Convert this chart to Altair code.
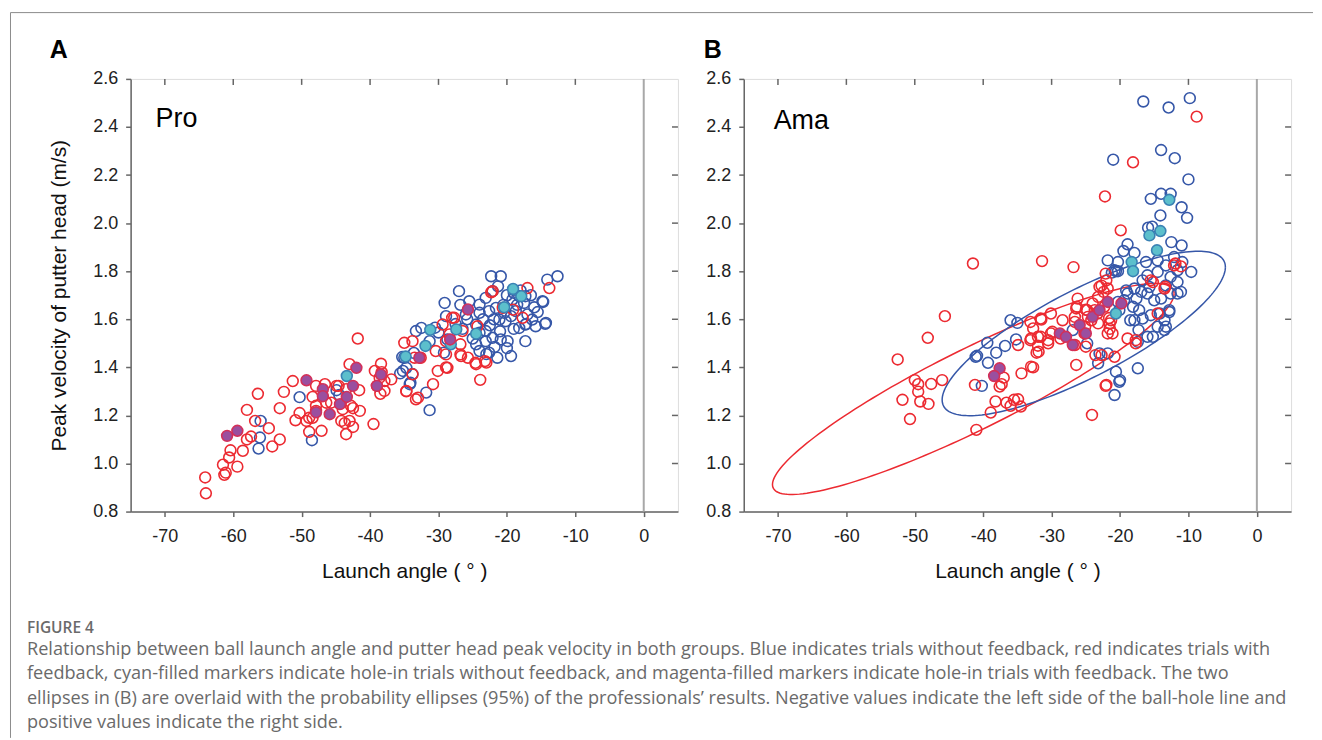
import altair as alt
import pandas as pd

# ---------------- axes / text ----------------
X_DOMAIN = [-75, 5]
Y_DOMAIN = [0.8, 2.6]
x_ticks = [-70, -60, -50, -40, -30, -20, -10, 0]
y_ticks = [0.8, 1.0, 1.2, 1.4, 1.6, 1.8, 2.0, 2.2, 2.4, 2.6]
panel_letters = ["A", "B"]
group_names = ["Pro", "Ama"]
x_title = "Launch angle ( °  )"
y_title = "Peak velocity of putter head (m/s)"
caption_head = "FIGURE 4"
caption_lines = [
    "Relationship between ball launch angle and putter head peak velocity in both groups. Blue indicates trials without feedback, red indicates trials with",
    "feedback, cyan-filled markers indicate hole-in trials without feedback, and magenta-filled markers indicate hole-in trials with feedback. The two",
    "ellipses in (B) are overlaid with the probability ellipses (95%) of the professionals\u2019 results. Negative values indicate the left side of the ball-hole line and",
    "positive values indicate the right side.",
]

# ---------------- Panel A: professionals ----------------
pro_nofb = [
    (-56.0, 1.177), (-56.1, 1.108), (-56.3, 1.062), (-50.3, 1.276), (-48.5, 1.097), (-44.9, 1.305), (-44.5, 1.285),
    (-35.3, 1.443), (-35.2, 1.385), (-34.1, 1.336), (-35.6, 1.375), (-34.7, 1.398), (-33.8, 1.372), (-31.3, 1.222),
    (-31.8, 1.295), (-34.2, 1.330), (-33.3, 1.551), (-32.5, 1.564), (-31.3, 1.509), (-35.0, 1.440), (-33.6, 1.460),
    (-29.2, 1.461), (-28.7, 1.516), (-28.9, 1.613), (-29.1, 1.668), (-27.0, 1.717), (-25.5, 1.675), (-25.8, 1.600),
    (-26.0, 1.620), (-24.0, 1.661), (-23.1, 1.689), (-22.3, 1.779), (-20.9, 1.779), (-22.1, 1.717), (-21.6, 1.647),
    (-21.1, 1.599), (-20.2, 1.592), (-19.4, 1.613), (-18.7, 1.634), (-18.2, 1.564), (-17.3, 1.578), (-16.3, 1.599),
    (-15.8, 1.571), (-14.8, 1.675), (-14.3, 1.585), (-14.1, 1.765), (-12.6, 1.779), (-17.3, 1.509), (-19.4, 1.447),
    (-21.4, 1.440), (-22.6, 1.461), (-24.0, 1.468), (-24.5, 1.496), (-23.1, 1.509), (-22.1, 1.523), (-20.9, 1.516),
    (-19.9, 1.509), (-24.0, 1.544), (-23.1, 1.551), (-24.5, 1.578), (-24.0, 1.627), (-22.6, 1.634), (-21.9, 1.600),
    (-20.4, 1.627), (-19.2, 1.682), (-18.2, 1.696), (-17.5, 1.668), (-17.3, 1.696), (-19.0, 1.710), (-20.0, 1.700),
    (-21.3, 1.737), (-14.7, 1.672), (-14.4, 1.581), (-17.2, 1.580), (-16.0, 1.650), (-17.0, 1.620), (-18.5, 1.660),
    (-20.5, 1.660), (-22.5, 1.575), (-23.5, 1.600), (-25.0, 1.520), (-21.0, 1.550), (-19.0, 1.560), (-18.0, 1.720),
    (-16.5, 1.700), (-15.5, 1.630), (-20.0, 1.480), (-21.8, 1.485), (-23.0, 1.455), (-26.5, 1.560), (-27.5, 1.580),
    (-30.0, 1.545), (-30.5, 1.565), (-26.8, 1.660),
]
pro_fb = [
    (-64.0, 0.876), (-64.1, 0.942), (-61.3, 0.953), (-61.1, 0.962), (-61.5, 0.995), (-59.4, 0.987), (-60.6, 1.025),
    (-60.4, 1.055), (-58.6, 1.053), (-58.0, 1.100), (-57.4, 1.112), (-56.8, 1.177), (-58.0, 1.223), (-56.4, 1.290),
    (-54.8, 1.147), (-54.3, 1.071), (-53.2, 1.100), (-53.2, 1.230), (-52.6, 1.298), (-51.3, 1.343), (-50.9, 1.180),
    (-50.3, 1.210), (-48.9, 1.132), (-48.9, 1.190), (-48.4, 1.277), (-47.9, 1.323), (-47.1, 1.136), (-47.9, 1.219),
    (-46.4, 1.253), (-44.9, 1.323), (-44.2, 1.177), (-43.7, 1.168), (-43.5, 1.122), (-42.5, 1.152), (-43.0, 1.413),
    (-41.8, 1.520), (-41.6, 1.305), (-41.5, 1.219), (-42.8, 1.240), (-39.5, 1.164), (-39.0, 1.323), (-38.4, 1.415),
    (-38.3, 1.380), (-37.9, 1.302), (-36.9, 1.350), (-34.7, 1.300), (-35.0, 1.502), (-33.3, 1.267), (-46.6, 1.330),
    (-45.7, 1.253), (-44.0, 1.226), (-42.5, 1.230), (-43.0, 1.177), (-43.5, 1.309), (-44.6, 1.323), (-49.3, 1.177),
    (-48.4, 1.190), (-47.9, 1.240), (-39.3, 1.385), (-38.6, 1.357), (-37.9, 1.343), (-38.5, 1.290),
    (-33.8, 1.509), (-33.5, 1.440), (-32.6, 1.440), (-33.8, 1.371), (-34.7, 1.302), (-33.0, 1.274), (-30.8, 1.330),
    (-30.1, 1.385), (-28.7, 1.398), (-30.4, 1.468), (-28.9, 1.454), (-29.4, 1.578), (-28.4, 1.537), (-27.7, 1.606),
    (-26.5, 1.551), (-26.7, 1.447), (-25.7, 1.440), (-24.5, 1.413), (-23.2, 1.426), (-23.9, 1.348), (-24.3, 1.571),
    (-22.1, 1.717), (-20.6, 1.647), (-17.0, 1.730), (-13.8, 1.730), (-17.7, 1.606), (-19.1, 1.640), (-28.0, 1.606),
    (-28.9, 1.509), (-26.8, 1.496), (-26.8, 1.454), (-24.6, 1.419), (-23.0, 1.420), (-22.3, 1.712), (-28.9, 1.400),
]
pro_fb_hole = [
    (-60.9, 1.115), (-59.4, 1.136), (-49.3, 1.346), (-46.9, 1.309), (-46.9, 1.280), (-47.9, 1.213), (-45.9, 1.205),
    (-44.4, 1.247), (-43.4, 1.277), (-42.0, 1.398), (-42.5, 1.323), (-39.0, 1.323), (-38.4, 1.370), (-25.7, 1.641),
    (-28.3, 1.516), (-32.8, 1.440),
]
pro_nofb_hole = [
    (-43.4, 1.364), (-34.8, 1.445), (-31.2, 1.556), (-31.9, 1.489), (-27.4, 1.558), (-24.5, 1.540), (-20.4, 1.650),
    (-19.1, 1.726), (-17.9, 1.696), (-28.2, 1.496),
]

# ---------------- Panel B: amateurs ----------------
ama_nofb = [
    (-16.6, 2.506), (-12.9, 2.481), (-9.8, 2.520), (-14.0, 2.304), (-12.0, 2.270), (-21.0, 2.264), (-10.0, 2.182),
    (-15.5, 2.101), (-14.0, 2.122), (-12.6, 2.122), (-11.0, 2.066), (-10.2, 2.022), (-14.1, 2.032), (-15.9, 1.981),
    (-15.3, 1.985), (-12.5, 1.921), (-11.0, 1.907), (-18.9, 1.912), (-19.5, 1.884), (-17.9, 1.876), (-20.3, 1.838),
    (-20.8, 1.804), (-20.3, 1.800), (-16.2, 1.838), (-14.5, 1.845), (-13.3, 1.824), (-12.1, 1.859), (-10.9, 1.838),
    (-9.6, 1.797), (-11.6, 1.804), (-12.6, 1.776), (-14.5, 1.797), (-16.0, 1.783), (-16.7, 1.762), (-15.7, 1.734),
    (-13.3, 1.741), (-11.6, 1.755), (-11.1, 1.714), (-12.6, 1.707), (-14.0, 1.686), (-15.0, 1.679), (-16.0, 1.707),
    (-16.9, 1.714), (-17.9, 1.728), (-18.9, 1.707), (-19.4, 1.679), (-18.1, 1.652), (-17.2, 1.638), (-17.9, 1.596),
    (-16.7, 1.603), (-15.5, 1.617), (-14.2, 1.624), (-12.8, 1.638), (-13.5, 1.596), (-14.5, 1.569), (-13.3, 1.569),
    (-16.0, 1.527), (-17.4, 1.506), (-20.1, 1.638), (-17.4, 1.396), (-20.6, 1.382), (-20.1, 1.340), (-20.8, 1.285),
    (-21.8, 1.458), (-23.0, 1.458), (-23.2, 1.417), (-20.6, 1.800), (-36.0, 1.596), (-35.0, 1.585), (-39.4, 1.502),
    (-41.1, 1.444), (-40.9, 1.448), (-38.1, 1.461), (-36.8, 1.489), (-35.2, 1.516), (-39.3, 1.419), (-40.2, 1.323),
    (-26.9, 1.555), (-24.8, 1.500), (-20.0, 1.347), (-15.2, 1.527), (-13.5, 1.555), (-12.8, 1.630), (-11.6, 1.707),
    (-17.3, 1.555), (-18.5, 1.596), (-20.3, 1.672), (-21.2, 1.794), (-21.8, 1.845), (-19.1, 1.720), (-17.6, 1.686),
]
ama_fb = [
    (-41.5, 1.832), (-31.4, 1.842), (-45.6, 1.613), (-48.1, 1.523), (-52.5, 1.433), (-50.0, 1.347), (-49.5, 1.330),
    (-49.5, 1.299), (-47.6, 1.331), (-46.0, 1.347), (-51.8, 1.265), (-49.2, 1.258), (-48.0, 1.248), (-50.7, 1.185),
    (-41.0, 1.140), (-41.2, 1.327), (-38.9, 1.212), (-38.2, 1.258), (-36.6, 1.253), (-34.9, 1.267), (-34.5, 1.237),
    (-37.0, 1.357), (-37.3, 1.330), (-34.4, 1.375), (-32.7, 1.400), (-34.9, 1.493), (-32.2, 1.461), (-33.0, 1.520),
    (-31.5, 1.599), (-32.7, 1.562), (-8.8, 2.443), (-18.1, 2.253), (-22.2, 2.111), (-19.9, 1.970), (-26.8, 1.817),
    (-12.1, 1.824), (-15.5, 1.762), (-13.5, 1.728), (-14.5, 1.624), (-18.9, 1.520), (-17.7, 1.513), (-22.0, 1.327),
    (-24.1, 1.202), (-26.4, 1.410), (-21.8, 1.541), (-23.7, 1.638), (-24.7, 1.610), (-22.0, 1.762), (-22.7, 1.740),
    (-21.8, 1.728), (-26.2, 1.686), (-26.4, 1.645), (-28.4, 1.596), (-30.1, 1.624), (-31.6, 1.603), (-32.0, 1.527),
    (-30.5, 1.500), (-30.1, 1.541), (-33.0, 1.403), (-25.2, 1.541), (-25.0, 1.486), (-23.2, 1.583), (-21.1, 1.541),
    (-24.0, 1.666), (-23.2, 1.693), (-22.3, 1.652), (-21.3, 1.596), (-20.8, 1.444), (-22.1, 1.790), (-22.4, 1.714),
    (-26.6, 1.610), (-25.0, 1.640), (-24.2, 1.596), (-23.3, 1.624), (-21.5, 1.583), (-17.7, 1.500), (-15.2, 1.755),
    (-13.4, 1.735), (-11.9, 1.832), (-11.1, 1.820), (-22.1, 1.323), (-23.6, 1.451), (-22.7, 1.451), (-26.6, 1.493),
    (-33.1, 1.513), (-31.6, 1.527), (-30.5, 1.513), (-28.7, 1.520), (-29.9, 1.548), (-31.9, 1.465), (-32.0, 1.490),
    (-33.1, 1.589), (-26.3, 1.652), (-24.8, 1.638), (-23.0, 1.735), (-21.5, 1.560), (-21.6, 1.605), (-25.1, 1.569),
    (-26.6, 1.589), (-36.0, 1.240), (-35.5, 1.265), (-37.6, 1.320),
]
ama_fb_hole = [
    (-37.6, 1.396), (-38.4, 1.364), (-28.8, 1.541), (-27.9, 1.527), (-26.9, 1.493), (-25.9, 1.576), (-25.0, 1.541),
    (-24.0, 1.610), (-23.0, 1.638), (-21.8, 1.672), (-19.8, 1.666),
]
ama_nofb_hole = [
    (-12.8, 2.097), (-15.7, 1.949), (-14.1, 1.967), (-14.6, 1.887), (-18.3, 1.838), (-18.1, 1.800), (-20.6, 1.624),
]

# 95% probability ellipses of the professionals' results (centre, half-ranges, phase in degrees)
ellipse_nofb = {"cx": -25.3, "cy": 1.541, "rx": 20.7, "ry": 0.342, "phase": 36.2}
ellipse_fb = {"cx": -41.45, "cy": 1.31, "rx": 29.35, "ry": 0.439, "phase": 25.1}

# ---------------- style ----------------
W, H = 549, 434
BLUE = "#3657a8"
RED = "#ec2a31"
CYAN_FILL, CYAN_STROKE = "#5cbfcc", "#3a82b4"
MAG_FILL, MAG_STROKE = "#9a4f9f", "#d33059"
AX_FONT = "Liberation Sans"
CAP_FONT = "Open Sans"
HYPHEN = "replace(datum.label, '\u2212', '-')"


def to_df(pts):
    return pd.DataFrame(pts, columns=["x", "y"])


def x_enc():
    return alt.X(
        "x:Q",
        scale=alt.Scale(domain=X_DOMAIN, nice=False, zero=False),
        axis=alt.Axis(
            values=x_ticks, title=x_title, grid=False, tickSize=5, labelPadding=11,
            labelExpr=HYPHEN,
            labelFontSize=18, labelFont=AX_FONT, labelColor="#222", domainColor="#666",
            tickColor="#666", domainWidth=1.5, tickWidth=1.5,
            titleFont=AX_FONT, titleFontSize=21, titleFontWeight="normal", titleColor="#111",
            titleX=W / 2, titleY=66, titleBaseline="alphabetic",
        ),
    )


def y_enc(with_title):
    kw = dict(
        values=y_ticks, format=".1f", grid=False, tickSize=5, labelPadding=8,
        labelFontSize=18, labelFont=AX_FONT, labelColor="#222", domainColor="#666",
        tickColor="#666", domainWidth=1.5, tickWidth=1.5,
    )
    if with_title:
        kw.update(title=y_title, titleFont=AX_FONT, titleFontSize=21, titleFontWeight="normal",
                  titleColor="#111", titleX=-61, titleY=H / 2, titleAngle=270,
                  titleBaseline="bottom", titleAlign="center")
    else:
        kw.update(title=None)
    return alt.Y("y:Q", scale=alt.Scale(domain=Y_DOMAIN, nice=False, zero=False), axis=alt.Axis(**kw))


def panel(nofb, fb, nofb_hole, fb_hole, letter, name, with_title, letter_x, name_x, name_y, extra=()):
    X = x_enc()
    Y = y_enc(with_title)
    zero = alt.Chart(pd.DataFrame({"x": [0]})).mark_rule(color="#a8a8a8", strokeWidth=2).encode(x=X)
    top_ticks = alt.Chart(pd.DataFrame({"x": x_ticks[:-1]})).mark_rule(color="#666", strokeWidth=1.5).encode(
        x=X, y=alt.value(0), y2=alt.value(6))
    right_ticks = alt.Chart(pd.DataFrame({"y": y_ticks[1:-1]})).mark_rule(color="#666", strokeWidth=1.5).encode(
        y=Y, x=alt.value(W - 6), x2=alt.value(W))
    pt = dict(shape="circle", size=118, strokeWidth=1.6)
    blue = alt.Chart(to_df(nofb)).mark_point(color=BLUE, filled=False, opacity=1, **pt).encode(x=X, y=Y)
    red = alt.Chart(to_df(fb)).mark_point(color=RED, filled=False, opacity=1, **pt).encode(x=X, y=Y)
    cyan = alt.Chart(to_df(nofb_hole)).mark_point(filled=True, fill=CYAN_FILL, stroke=CYAN_STROKE,
                                                  opacity=1, fillOpacity=1, **pt).encode(x=X, y=Y)
    mag = alt.Chart(to_df(fb_hole)).mark_point(filled=True, fill=MAG_FILL, stroke=MAG_STROKE,
                                               opacity=1, fillOpacity=1, **pt).encode(x=X, y=Y)
    one = pd.DataFrame({"a": [0]})
    letter_t = alt.Chart(one).mark_text(text=letter, font=AX_FONT, fontSize=25, fontWeight="bold",
                                        align="left", baseline="alphabetic", color="#000").encode(
        x=alt.value(letter_x), y=alt.value(-21))
    name_t = alt.Chart(one).mark_text(text=name, font=AX_FONT, fontSize=27, align="left",
                                      baseline="alphabetic", color="#000").encode(
        x=alt.value(name_x), y=alt.value(name_y))
    layers = [zero, top_ticks, right_ticks] + list(extra) + [blue, red, cyan, mag, letter_t, name_t]
    return layers


def ellipse(p, color):
    expr_x = f"{p['cx']} + {p['rx']} * cos(datum.t * PI / 180)"
    expr_y = f"{p['cy']} + {p['ry']} * cos((datum.t - {p['phase']}) * PI / 180)"
    return alt.Chart(alt.sequence(0, 362, 2, as_="t")).transform_calculate(x=expr_x, y=expr_y).mark_line(
        color=color, strokeWidth=1.5).encode(x=x_enc(), y=y_enc(False), order="t:Q")


# decorations for panel A (frame of the figure and caption)
one = pd.DataFrame({"a": [0]})
border_top = alt.Chart(one).mark_rule(color="#8c8c8c", strokeWidth=1).encode(
    x=alt.value(-120.5), x2=alt.value(1186), y=alt.value(-66.5))
border_left = alt.Chart(one).mark_rule(color="#8c8c8c", strokeWidth=1).encode(
    x=alt.value(-120.5), y=alt.value(-66.5), y2=alt.value(661))
cap_head = alt.Chart(one).mark_text(text=caption_head, font=CAP_FONT, fontSize=15.5, fontWeight=600,
                                    align="left", baseline="alphabetic", color="#6a6a6a").encode(
    x=alt.value(-104), y=alt.value(556))
cap_layers = []
for i, line in enumerate(caption_lines):
    cap_layers.append(alt.Chart(one).mark_text(text=line, font=CAP_FONT, fontSize=18.2,
                                               align="left", baseline="alphabetic", color="#6a6a6a").encode(
        x=alt.value(-104), y=alt.value(578 + 24.4 * i)))

layers_a = panel(pro_nofb, pro_fb, pro_nofb_hole, pro_fb_hole, panel_letters[0], group_names[0], True,
                 -81, 25, 48) + [border_top, border_left, cap_head] + cap_layers
layers_b = panel(ama_nofb, ama_fb, ama_nofb_hole, ama_fb_hole, panel_letters[1], group_names[1], False,
                 -40, 30, 50, extra=[ellipse(ellipse_fb, RED), ellipse(ellipse_nofb, BLUE)])

chart_a = alt.layer(*layers_a).properties(width=W, height=H)
chart_b = alt.layer(*layers_b).properties(width=W, height=H)

chart = alt.hconcat(chart_a, chart_b, spacing=66, bounds="flush").properties(
    padding={"left": 1, "top": 2, "right": 0, "bottom": 0}
).configure_view(stroke="#8a8a8a", strokeWidth=1.5).configure(background="white")

chart.save("out.html", embed_options={"renderer": "svg", "actions": False})
